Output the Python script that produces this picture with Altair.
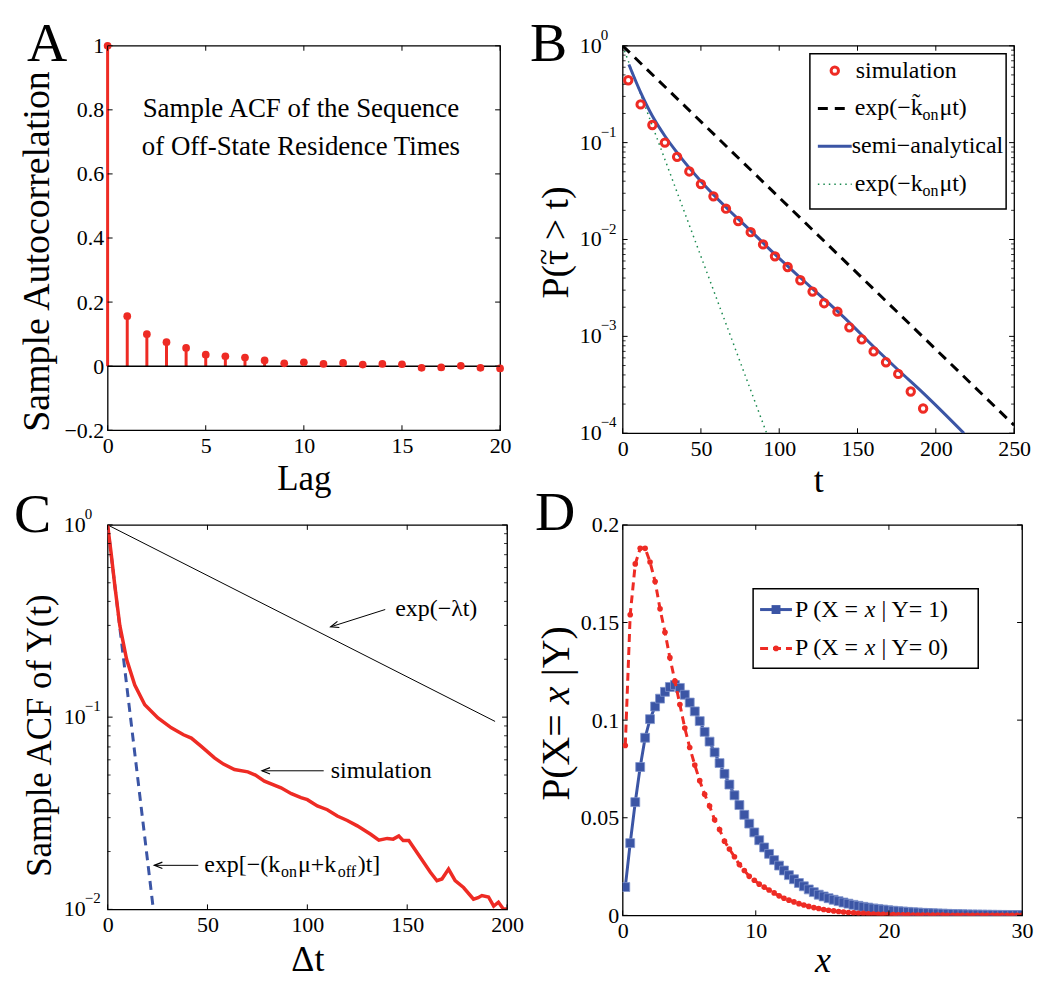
import altair as alt
import pandas as pd

FONT = "Liberation Serif"
RED = "#ee2b24"
BLUE = "#3b55a5"
GREEN = "#1b8a50"

# ---------------- Panel A data ----------------
lags = list(range(21))
acf_vals = [1.0, 0.156, 0.100, 0.075, 0.057, 0.036, 0.031, 0.027, 0.018, 0.009,
            0.012, 0.007, 0.010, 0.005, 0.007, 0.006, -0.005, -0.004, 0.001, -0.005, -0.007]
a_xticks = [0, 5, 10, 15, 20]
a_yticks = [-0.2, 0, 0.2, 0.4, 0.6, 0.8, 1.0]
a_note = ["Sample ACF of the Sequence", "of Off-State Residence Times"]
a_note_lag = [9.85, 9.85]
a_note_val = [0.803, 0.684]

# ---------------- Panel B data ----------------
b_sim_t = [3.6, 11.5, 19.0, 27.0, 34.8, 42.6, 50.0, 58.0, 66.0, 73.8, 81.8, 89.7, 97.3,
           105.4, 113.5, 121.3, 128.7, 137.2, 144.8, 152.7, 160.3, 168.2, 176.0, 184.0, 191.9]
b_sim_p = [0.44, 0.248, 0.152, 0.100, 0.0713, 0.0504, 0.0373, 0.0279, 0.0208, 0.0155, 0.0119,
           0.0089, 0.0067, 0.0052, 0.0038, 0.0029, 0.0022, 0.0018, 0.00124, 0.00093, 0.0007,
           0.00054, 0.00041, 0.00027, 0.00018]
b_semi_t = [4, 11.5, 19, 27, 35, 50, 66, 82, 97, 113, 129, 145, 160, 176, 192, 218]
b_semi_p = [0.64, 0.33, 0.188, 0.117, 0.078, 0.040, 0.0215, 0.0122, 0.0071, 0.0041, 0.0024,
            0.00138, 0.00079, 0.00045, 0.00026, 0.0001]
b_tilde_t = [0, 250]
b_tilde_p = [1.0, 1.21e-4]
b_kon_t = [0, 92]
b_kon_p = [1.0, 1.0e-4]
b_xticks = [0, 50, 100, 150, 200, 250]
b_yticks = [1e-4, 1e-3, 1e-2, 1e-1, 1.0]
b_yexp = ["\u22124", "\u22123", "\u22122", "\u22121", "0"]

# ---------------- Panel C data ----------------
c_sim_t = [0, 1.7, 3.6, 6.1, 9.5, 13.6, 18.6, 25.2, 31.9, 38, 41.9, 46.9, 53.5, 58, 63.5, 70.2,
           74, 78.5, 86.8, 92, 96.8, 100, 105, 110, 115, 120, 125, 131.7, 135.8, 140, 143,
           145.8, 148, 150.8, 156.6, 161.6, 164.9, 167.4, 170.7, 174, 178.2, 183.2, 185.5,
           187.4, 190.7, 193.3, 195.7, 198.3, 200]
c_sim_p = [1.0, 0.72, 0.484, 0.30, 0.20, 0.147, 0.116, 0.099, 0.088, 0.081, 0.0778, 0.0705,
           0.0614, 0.057, 0.0534, 0.0519, 0.050, 0.0465, 0.0429, 0.040, 0.0381, 0.0372, 0.0345,
           0.0330, 0.0306, 0.0290, 0.0272, 0.0246, 0.0229, 0.0234, 0.0232, 0.0241, 0.0228,
           0.0228, 0.0186, 0.0156, 0.0141, 0.0144, 0.0162, 0.0141, 0.0130, 0.0113, 0.0115,
           0.0118, 0.0116, 0.0104, 0.0109, 0.0100, 0.0101]
c_lambda_t = [0, 194]
c_lambda_p = [1.0, 0.095]
c_fast_t = [0, 23]
c_fast_p = [1.0, 0.0098]
c_xticks = [0, 50, 100, 150, 200]
c_yticks = [0.01, 0.1, 1.0]
c_yexp = ["\u22122", "\u22121", "0"]

# ---------------- Panel D data ----------------
d_x = [0.2, 0.57, 0.95, 1.32, 1.69, 2.06, 2.44, 2.81, 3.18, 3.55, 3.93, 4.3, 4.67, 5.04, 5.42,
       5.79, 6.16, 6.53, 6.91, 7.28, 7.65, 8.02, 8.4, 8.77, 9.14, 9.51, 9.89, 10.26, 10.63, 11.0,
       11.38, 11.75, 12.12, 12.49, 12.87, 13.24, 13.61, 13.98, 14.36, 14.73, 15.1, 15.47, 15.85,
       16.22, 16.59, 16.96, 17.34, 17.71, 18.08, 18.45, 18.83, 19.2, 19.57, 19.94, 20.32, 20.69,
       21.06, 21.43, 21.81, 22.18, 22.55, 22.92, 23.3, 23.67, 24.04, 24.41, 24.79, 25.16, 25.53,
       25.9, 26.28, 26.65, 27.02, 27.39, 27.77, 28.14, 28.51, 28.88, 29.26, 29.63, 30.0]
d_y1 = [0.0145, 0.037, 0.058, 0.076, 0.091, 0.1005, 0.107, 0.111, 0.1145, 0.117, 0.118, 0.1165,
        0.113, 0.109, 0.1045, 0.0995, 0.094, 0.089, 0.0835, 0.078, 0.0725, 0.067, 0.0615,
        0.0565, 0.0515, 0.047, 0.0425, 0.0385, 0.0348, 0.0315, 0.0283, 0.0255, 0.023, 0.0206,
        0.0185, 0.0166, 0.0149, 0.0133, 0.0119, 0.0106, 0.0097, 0.0088, 0.008, 0.0073, 0.0066,
        0.006, 0.0054, 0.0049, 0.0044, 0.004, 0.0036, 0.0033, 0.003, 0.0027, 0.0024, 0.0022,
        0.002, 0.0018, 0.0016, 0.0015, 0.0013, 0.0012, 0.0011, 0.001, 0.0009, 0.0008, 0.00072,
        0.00065, 0.00058, 0.00052, 0.00047, 0.00042, 0.00038, 0.00034, 0.0003, 0.00027,
        0.00024, 0.00022, 0.0002, 0.00018, 0.00016]
d_y0 = [0.087, 0.154, 0.180, 0.188, 0.188, 0.181, 0.171, 0.157, 0.145, 0.132, 0.120, 0.108,
        0.096, 0.086, 0.077, 0.069, 0.062, 0.056, 0.049, 0.044, 0.038, 0.034, 0.030, 0.026,
        0.023, 0.020, 0.018, 0.016, 0.0145, 0.013, 0.0115, 0.010, 0.0088, 0.0078, 0.0069,
        0.006, 0.0053, 0.0046, 0.004, 0.0035, 0.003, 0.0026, 0.0023, 0.002, 0.0017, 0.0015,
        0.0013, 0.0011, 0.0010, 0.0008, 0.0007, 0.0006, 0.0005, 0.00045, 0.0004, 0.00035,
        0.0003, 0.00026, 0.00022, 0.0002, 0.00017, 0.00015, 0.00013, 0.00011, 0.0001, 0.00009,
        0.00008, 0.00007, 0.00006, 0.00005, 0.00004, 0.00004, 0.00003, 0.00003, 0.00002,
        0.00002, 0.00002, 0.00001, 0.00001, 0.00001, 0.00001]
d_xticks = [0, 10, 20, 30]
d_yticks = [0, 0.05, 0.1, 0.15, 0.2]

ONE = pd.DataFrame({"k": [0]})
LETTER = 56


def label(s, x, y, size=24, style="normal", align="left", baseline="middle", dy=0, angle=0):
    return alt.Chart(ONE).mark_text(
        text=s, font=FONT, fontSize=size, fontStyle=style, align=align,
        baseline=baseline, dy=dy, angle=angle, color="black"
    ).encode(x=alt.value(x), y=alt.value(y))


def encoders(xs, ys, ax_x, ax_y):
    def X(f):
        return alt.X(f, type="quantitative", scale=xs, axis=ax_x)

    def Y(f):
        return alt.Y(f, type="quantitative", scale=ys, axis=ax_y)
    return X, Y


def tick_layers(W, H, X, Y, xticks, yticks, yminor=None, L=5, Lm=3):
    tx = pd.DataFrame({"v": xticks})
    ty = pd.DataFrame({"v": yticks})
    out = [
        alt.Chart(tx).mark_rule(color="black", strokeWidth=1).encode(x=X("v"), y=alt.value(H), y2=alt.value(H - L)),
        alt.Chart(tx).mark_rule(color="black", strokeWidth=1).encode(x=X("v"), y=alt.value(0), y2=alt.value(L)),
        alt.Chart(ty).mark_rule(color="black", strokeWidth=1).encode(y=Y("v"), x=alt.value(0), x2=alt.value(L)),
        alt.Chart(ty).mark_rule(color="black", strokeWidth=1).encode(y=Y("v"), x=alt.value(W), x2=alt.value(W - L)),
    ]
    if yminor:
        tm = pd.DataFrame({"v": yminor})
        out += [
            alt.Chart(tm).mark_rule(color="black", strokeWidth=0.8).encode(y=Y("v"), x=alt.value(0), x2=alt.value(Lm)),
            alt.Chart(tm).mark_rule(color="black", strokeWidth=0.8).encode(y=Y("v"), x=alt.value(W), x2=alt.value(W - Lm)),
        ]
    return out


def xaxis(values, title, W, ty, size=36, style="normal"):
    return alt.Axis(values=values, title=title, titleX=W / 2, titleY=ty, titleAlign="center",
                    titleBaseline="alphabetic", titleFontStyle=style, titleFontSize=size,
                    labelExpr="format(datum.value, '~g')")


def yaxis(values, title, tx, ty, size=38, labels=True):
    kw = dict(values=values, titleX=tx, titleY=ty, titleAlign="center",
              titleBaseline="middle", titleAngle=270, titleFontSize=size, labels=labels,
              labelExpr="format(datum.value, '~g')")
    if title is None:
        return alt.Axis(title=None, **kw)
    return alt.Axis(title=title, **kw)


# ================= Panel A =================
WA, HA = 394, 386
XA, YA = encoders(alt.Scale(domain=[0, 20], nice=False, zero=False),
                  alt.Scale(domain=[-0.2, 1.0], nice=False, zero=False),
                  xaxis(a_xticks, "Lag", WA, 59, size=35),
                  yaxis(a_yticks, "Sample Autocorrelation", -70, 206, size=38))
dfA = pd.DataFrame({"lag": lags, "acf": acf_vals, "base": [0] * len(lags)})
stemsA = alt.Chart(dfA).mark_rule(color=RED, strokeWidth=3).encode(
    x=XA("lag"), y=YA("acf"), y2="base:Q")
zeroA = alt.Chart(pd.DataFrame({"z": [0]})).mark_rule(color="black", strokeWidth=1.5).encode(y=YA("z"))
dotsA = alt.Chart(dfA).mark_circle(color=RED, size=60, opacity=1).encode(x=XA("lag"), y=YA("acf"))
noteA = alt.Chart(pd.DataFrame({"s": a_note, "lag": a_note_lag, "v": a_note_val})).mark_text(
    font=FONT, fontSize=27, align="center", baseline="middle", color="black").encode(
    x=XA("lag"), y=YA("v"), text="s:N")
panelA = alt.layer(
    stemsA, zeroA, dotsA, noteA,
    *tick_layers(WA, HA, XA, YA, a_xticks, a_yticks),
    label("A", -81, 15, size=LETTER, baseline="alphabetic"),
).properties(width=WA, height=HA)

# ================= Panel B =================
WB, HB = 393, 389
XB, YB = encoders(alt.Scale(domain=[0, 250], nice=False, zero=False),
                  alt.Scale(type="log", domain=[1e-4, 1.0], nice=False),
                  xaxis(b_xticks, "t", WB, 58, size=36),
                  yaxis(b_yticks, "P(\u03c4 > t)", -66, 197, size=38, labels=False))
b_minor = [m * 10.0 ** e for e in [-4, -3, -2, -1] for m in range(2, 10)]
konB = alt.Chart(pd.DataFrame({"t": b_kon_t, "p": b_kon_p})).mark_line(
    color=GREEN, strokeWidth=1.5, strokeDash=[1.5, 4], clip=True).encode(x=XB("t"), y=YB("p"))
tildeB = alt.Chart(pd.DataFrame({"t": b_tilde_t, "p": b_tilde_p})).mark_line(
    color="black", strokeWidth=3, strokeDash=[10, 7], clip=True).encode(x=XB("t"), y=YB("p"))
semiB = alt.Chart(pd.DataFrame({"t": b_semi_t, "p": b_semi_p})).mark_line(
    color=BLUE, strokeWidth=3, clip=True, interpolate="monotone").encode(x=XB("t"), y=YB("p"))
simB = alt.Chart(pd.DataFrame({"t": b_sim_t, "p": b_sim_p})).mark_point(
    color=RED, shape="circle", filled=False, strokeWidth=3, size=55, opacity=1).encode(
    x=XB("t"), y=YB("p"))
ylabB = pd.DataFrame({"v": b_yticks, "e": b_yexp})
tenB = alt.Chart(ylabB).mark_text(font=FONT, fontSize=22, align="left", baseline="middle",
                                  color="black", text="10").encode(y=YB("v"), x=alt.value(-43))
expB = alt.Chart(ylabB).mark_text(font=FONT, fontSize=15, align="left", baseline="middle",
                                  color="black", dy=-11).encode(y=YB("v"), x=alt.value(-22), text="e:N")
legB = [
    alt.Chart(ONE).mark_rect(fill="white", stroke="black", strokeWidth=1.5).encode(
        x=alt.value(188), x2=alt.value(385), y=alt.value(8), y2=alt.value(164)),
    alt.Chart(ONE).mark_point(color=RED, shape="circle", filled=False, strokeWidth=3, size=55,
                              opacity=1).encode(x=alt.value(213), y=alt.value(25)),
    alt.Chart(ONE).mark_rule(color="black", strokeWidth=3, strokeDash=[10, 7]).encode(
        x=alt.value(196), x2=alt.value(230), y=alt.value(63)),
    alt.Chart(ONE).mark_rule(color=BLUE, strokeWidth=3).encode(
        x=alt.value(196), x2=alt.value(230), y=alt.value(101)),
    alt.Chart(ONE).mark_rule(color=GREEN, strokeWidth=1.5, strokeDash=[1.5, 4]).encode(
        x=alt.value(196), x2=alt.value(230), y=alt.value(139)),
    label("simulation", 234, 25),
    label("exp(\u2212k\u0303", 233, 63),
    label("on", 301, 63, size=16, dy=7),
    label("\u03bct)", 318, 63),
    label("semi\u2212analytical", 230, 101),
    label("exp(\u2212k", 233, 139),
    label("on", 301, 139, size=16, dy=7),
    label("\u03bct)", 318, 139),
    # tilde over tau in the y-axis title
    label("~", -69, 212, size=30, align="center", baseline="alphabetic", angle=270),
]
panelB = alt.layer(
    konB, tildeB, semiB, simB, tenB, expB,
    *tick_layers(WB, HB, XB, YB, b_xticks, b_yticks, yminor=b_minor),
    *legB,
    label("B", -93, 15, size=LETTER, baseline="alphabetic"),
).properties(width=WB, height=HB)

# ================= Panel C =================
WC, HC = 401, 386
XC, YC = encoders(alt.Scale(domain=[0, 200], nice=False, zero=False),
                  alt.Scale(type="log", domain=[0.01, 1.0], nice=False),
                  xaxis(c_xticks, "\u0394t", WC, 61, size=36),
                  yaxis(c_yticks, "Sample ACF of Y(t)", -68, 211, size=35, labels=False))
c_minor = [m * 10.0 ** e for e in [-2, -1] for m in range(2, 10)]
lamC = alt.Chart(pd.DataFrame({"t": c_lambda_t, "p": c_lambda_p})).mark_line(
    color="black", strokeWidth=1, clip=True).encode(x=XC("t"), y=YC("p"))
fastC = alt.Chart(pd.DataFrame({"t": c_fast_t, "p": c_fast_p})).mark_line(
    color=BLUE, strokeWidth=3, strokeDash=[9, 6], clip=True).encode(x=XC("t"), y=YC("p"))
simC = alt.Chart(pd.DataFrame({"t": c_sim_t, "p": c_sim_p})).mark_line(
    color=RED, strokeWidth=3.5, clip=True).encode(x=XC("t"), y=YC("p"))
ylabC = pd.DataFrame({"v": c_yticks, "e": c_yexp})
tenC = alt.Chart(ylabC).mark_text(font=FONT, fontSize=22, align="left", baseline="middle",
                                  color="black", text="10").encode(y=YC("v"), x=alt.value(-44))
expC = alt.Chart(ylabC).mark_text(font=FONT, fontSize=15, align="left", baseline="middle",
                                  color="black", dy=-11).encode(y=YC("v"), x=alt.value(-23), text="e:N")
# annotation arrows (data coordinates)
arrows = pd.DataFrame({
    "t1": [139.0, 108.2, 45.4], "p1": [0.363, 0.0526, 0.01695],
    "t2": [111.7, 77.3, 23.4], "p2": [0.295, 0.0526, 0.01695],
    "ang": [162.8, 180.0, 180.0],
})
arrC = alt.Chart(arrows).mark_rule(color="black", strokeWidth=1).encode(
    x=XC("t1"), y=YC("p1"), x2="t2:Q", y2="p2:Q")
headC = alt.Chart(arrows).mark_point(
    shape="M-1,-0.4L0,0L-1,0.4", filled=False, color="black", strokeWidth=1.2, size=260,
    opacity=1).encode(x=XC("t2"), y=YC("p2"), angle=alt.Angle("ang:Q", scale=None))


def ctext(s, t, p, dx=0, dy=0, size=24):
    return alt.Chart(pd.DataFrame({"t": [t], "p": [p]})).mark_text(
        text=s, font=FONT, fontSize=size, align="left", baseline="middle", dx=dx, dy=dy,
        color="black").encode(x=XC("t"), y=YC("p"))


notesC = [
    ctext("exp(\u2212\u03bbt)", 144.0, 0.366),
    ctext("simulation", 111.7, 0.0526),
    ctext("exp[\u2212(k", 48.4, 0.01695),
    ctext("on", 48.4, 0.01695, dx=77, dy=7, size=16),
    ctext("\u03bc+k", 48.4, 0.01695, dx=94),
    ctext("off", 48.4, 0.01695, dx=134, dy=7, size=16),
    ctext(")t]", 48.4, 0.01695, dx=154),
]
panelC = alt.layer(
    lamC, fastC, simC, tenC, expC, arrC, headC, *notesC,
    *tick_layers(WC, HC, XC, YC, c_xticks, c_yticks, yminor=c_minor),
    label("C", -94, 7, size=LETTER, baseline="alphabetic"),
).properties(width=WC, height=HC)

# ================= Panel D =================
WD, HD = 401, 392
XD, YD = encoders(alt.Scale(domain=[0, 30], nice=False, zero=False),
                  alt.Scale(domain=[0, 0.2], nice=False, zero=False),
                  xaxis(d_xticks, "x", WD, 56, size=36, style="italic"),
                  yaxis(d_yticks, None, -66, 188))
dfD = pd.DataFrame({"x": d_x, "y1": d_y1, "y0": d_y0})
line1 = alt.Chart(dfD).mark_line(color=BLUE, strokeWidth=3, clip=True).encode(x=XD("x"), y=YD("y1"))
pts1 = alt.Chart(dfD).mark_point(color=BLUE, shape="square", filled=True, size=80, opacity=1,
                                 stroke="#7f93cc", strokeWidth=0.8, clip=True).encode(
    x=XD("x"), y=YD("y1"))
line0 = alt.Chart(dfD).mark_line(color=RED, strokeWidth=3, strokeDash=[8, 5], clip=True).encode(
    x=XD("x"), y=YD("y0"))
pts0 = alt.Chart(dfD).mark_circle(color=RED, size=32, opacity=1, clip=True).encode(
    x=XD("x"), y=YD("y0"))
legD = [
    alt.Chart(ONE).mark_rect(fill="white", stroke="black", strokeWidth=1.5).encode(
        x=alt.value(131), x2=alt.value(357), y=alt.value(64), y2=alt.value(144)),
    alt.Chart(ONE).mark_rule(color=BLUE, strokeWidth=3).encode(
        x=alt.value(138), x2=alt.value(170), y=alt.value(85)),
    alt.Chart(ONE).mark_point(color=BLUE, shape="square", filled=True, size=80, opacity=1).encode(
        x=alt.value(154), y=alt.value(85)),
    alt.Chart(ONE).mark_rule(color=RED, strokeWidth=3, strokeDash=[8, 5]).encode(
        x=alt.value(138), x2=alt.value(170), y=alt.value(124)),
    alt.Chart(ONE).mark_circle(color=RED, size=32, opacity=1).encode(
        x=alt.value(154), y=alt.value(124)),
]
for yy, k in [(85, "1"), (124, "0")]:
    legD += [
        label("P (X =", 173, yy),
        label("x", 243, yy, style="italic"),
        label("| Y= " + k + ")", 260, yy),
    ]
# y-axis title of D, drawn in pieces so that x is italic (rotated, reading upwards)
titleD = [
    label("P(X=", -66, 277, size=40, angle=270),
    label("x", -66, 180, size=40, style="italic", angle=270),
    label("|Y)", -66, 152, size=40, angle=270),
]
panelD = alt.layer(
    line1, pts1, line0, pts0,
    *tick_layers(WD, HD, XD, YD, d_xticks, d_yticks),
    *legD, *titleD,
    label("D", -88, 5, size=LETTER, baseline="alphabetic"),
).properties(width=WD, height=HD)

chart = alt.concat(
    panelA, panelB, panelC, panelD, columns=2, bounds="flush",
    spacing={"row": 92, "column": 116}
).properties(
    padding={"left": 5, "top": 5, "right": 5, "bottom": 5}
).configure_view(stroke="black", strokeWidth=1.3).configure_axis(
    labelFont=FONT, labelFontSize=22, labelColor="black", titleFont=FONT, titleFontSize=36,
    titleFontWeight="normal", titleColor="black", domain=False, ticks=False, grid=False,
    labelFlush=False, labelOverlap=False
).configure_axisLeft(labelPadding=4).configure_axisBottom(labelPadding=5)

chart.save("out.html", embed_options={"renderer": "svg", "actions": False})
